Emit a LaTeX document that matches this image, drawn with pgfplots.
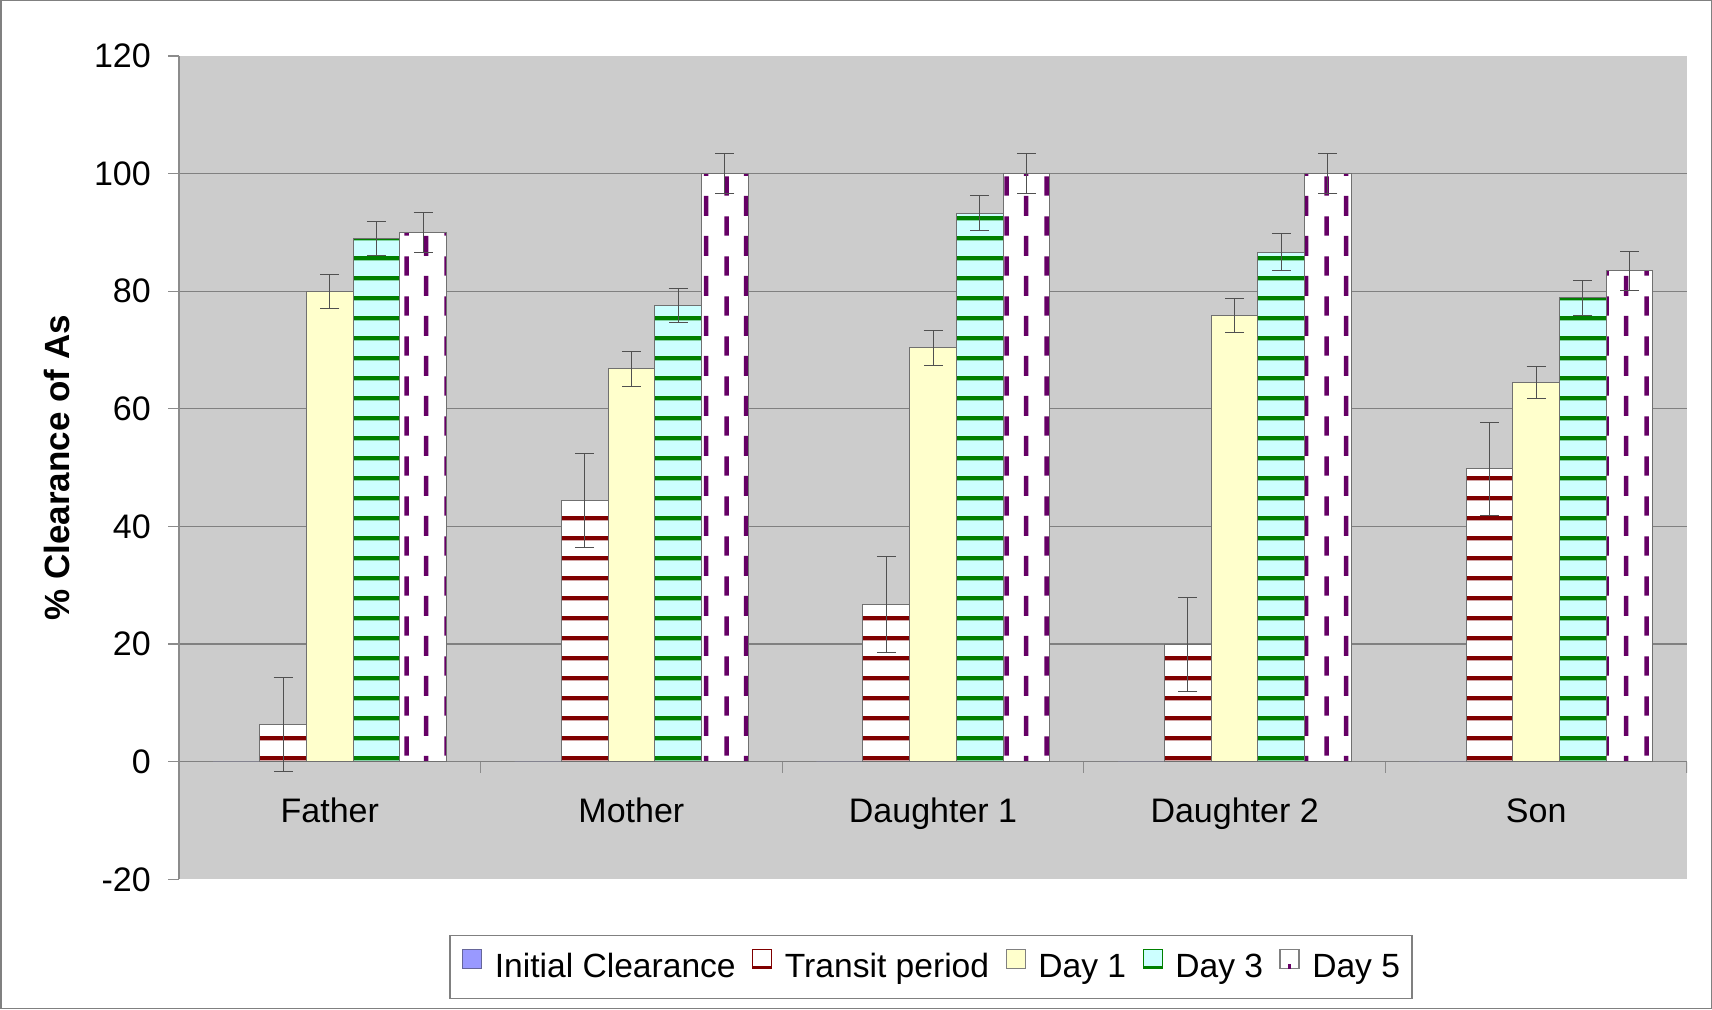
\documentclass[border=0pt]{standalone}
\usepackage{fontspec}
\setmainfont{Liberation Sans}
\usepackage{pgfplots}
\pgfplotsset{compat=1.18}
\usetikzlibrary{patterns}

\definecolor{plotbg}{HTML}{CCCCCC}
\definecolor{gridgray}{HTML}{808080}
\definecolor{axisgray}{HTML}{8C8C8C}
\definecolor{bordergray}{HTML}{707070}
\definecolor{errgray}{HTML}{505050}
\definecolor{initblue}{HTML}{9999FF}
\definecolor{initborder}{HTML}{666699}
\definecolor{transred}{HTML}{800000}
\definecolor{dayone}{HTML}{FFFFCC}
\definecolor{daythree}{HTML}{CCFFFF}
\definecolor{daygreen}{HTML}{008000}
\definecolor{dayfive}{HTML}{660066}

\pgfdeclarepatternformonly{hstripes}{\pgfpointorigin}{\pgfpoint{10pt}{10pt}}{\pgfpoint{10pt}{10pt}}{%
  \pgfpathrectangle{\pgfpoint{-1pt}{5.08pt}}{\pgfpoint{12pt}{2.16pt}}\pgfusepath{fill}}
\pgfdeclarepatternformonly{vdash}{\pgfpointorigin}{\pgfpoint{20pt}{20pt}}{\pgfpoint{20pt}{20pt}}{%
  \pgfpathrectangle{\pgfpoint{2.2pt}{7.4pt}}{\pgfpoint{2.3pt}{9.8pt}}%
  \pgfpathrectangle{\pgfpoint{12.2pt}{17.4pt}}{\pgfpoint{2.3pt}{3pt}}%
  \pgfpathrectangle{\pgfpoint{12.2pt}{-1pt}}{\pgfpoint{2.3pt}{8.2pt}}%
  \pgfusepath{fill}}

\begin{document}
\begin{tikzpicture}
\useasboundingbox (0,0) rectangle (856pt,504.5pt);
\fill[white] (0,0) rectangle (856pt,504.5pt);
\draw[gridgray, line width=0.75pt] (0.375pt,0.375pt) rectangle (855.625pt,504.125pt);
\begin{axis}[
  at={(89.5pt,64.85pt)}, anchor=south west,
  scale only axis, width=754pt, height=411.65pt,
  xmin=-0.5, xmax=4.5, ymin=-20, ymax=120,
  axis background/.style={fill=plotbg},
  axis x line*=bottom, axis y line*=left,
  x axis line style={draw=none},
  y axis line style={draw=axisgray, line width=0.8pt},
  xtick={0,1,2,3,4},
  xticklabels={Father,Mother,Daughter 1,Daughter 2,Son},
  xtick style={draw=none},
  ytick={0,20,40,60,80,100},
  extra y ticks={-20,120},
  extra y tick style={grid=none},
  ymajorgrids, grid style={gridgray, line width=0.6pt},
  ytick style={draw=axisgray, line width=0.6pt},
  tick align=outside, major tick length=5.4pt,
  /pgf/number format/assume math mode=true,
  ticklabel style={font=\fontsize{17}{20}\selectfont},
  yticklabel style={anchor=east, inner sep=0pt, xshift=-8.5pt},
  xticklabel style={anchor=base, inner sep=0pt, yshift=33.6pt},
  ylabel={\% Clearance of As},
  ylabel style={at={(axis description cs:-0.0806,0.5)}, anchor=center, font=\bfseries\fontsize{17.5}{20}\selectfont},
  legend columns=5,
  legend style={at={(axis description cs:0.4987,-0.1065)}, anchor=center,
    draw=gridgray, line width=0.6pt, fill=white,
    font=\fontsize{16.8}{20}\selectfont,
    inner xsep=6pt, inner ysep=7pt,
    nodes={inner sep=0pt, text height=12.4pt, text depth=3.6pt},
    /tikz/every odd column/.append style={column sep=6.3pt},
    /tikz/every even column/.append style={column sep=8.2pt}},
  error bars/error bar style={errgray, line width=0.5pt},
  error bars/error mark options={errgray, line width=0.5pt, mark size=4.75pt, rotate=90},
]
% Initial Clearance (no visible bars), slot offset -0.3096
\addplot[ybar, bar width=0.1548, bar shift=0, fill=initblue, draw=none, forget plot]
  coordinates {(-0.3096,0) (0.6904,0) (1.6904,0) (2.6904,0) (3.6904,0)};
% Transit period, slot offset -0.1548
\addplot[ybar, bar width=0.1548, bar shift=0, fill=white, draw=bordergray, line width=0.5pt,
  postaction={pattern=hstripes, pattern color=transred}, forget plot,
  error bars/.cd, y dir=both, y explicit]
  coordinates {(-0.1548,6.3) +- (0,8.05) (0.8452,44.4) +- (0,8.05) (1.8452,26.75) +- (0,8.1) (2.8452,20.0) +- (0,8.0) (3.8452,49.8) +- (0,7.9)};
% Day 1, slot offset 0
\addplot[ybar, bar width=0.1548, bar shift=0, fill=dayone, draw=bordergray, line width=0.5pt, forget plot,
  error bars/.cd, y dir=both, y explicit]
  coordinates {(0,80.0) +- (0,2.9) (1,66.8) +- (0,2.95) (2,70.4) +- (0,2.95) (3,75.8) +- (0,2.9) (4,64.5) +- (0,2.7)};
% Day 3, slot offset +0.1548
\addplot[ybar, bar width=0.1548, bar shift=0, fill=daythree, draw=bordergray, line width=0.5pt,
  postaction={pattern=hstripes, pattern color=daygreen}, forget plot,
  error bars/.cd, y dir=both, y explicit]
  coordinates {(0.1548,89.0) +- (0,2.9) (1.1548,77.6) +- (0,2.9) (2.1548,93.3) +- (0,2.95) (3.1548,86.65) +- (0,3.1) (4.1548,78.9) +- (0,2.95)};
% Day 5, slot offset +0.3096
\addplot[ybar, bar width=0.1548, bar shift=0, fill=white, draw=bordergray, line width=0.5pt,
  postaction={pattern=vdash, pattern color=dayfive}, forget plot,
  error bars/.cd, y dir=both, y explicit]
  coordinates {(0.3096,90.0) +- (0,3.4) (1.3096,100) +- (0,3.4) (2.3096,100) +- (0,3.4) (3.3096,100) +- (0,3.4) (4.3096,83.5) +- (0,3.3)};

% category separator ticks on the zero line
\draw[axisgray, line width=0.6pt] (axis cs:0.5,0) -- ++(0pt,-5.5pt);
\draw[axisgray, line width=0.6pt] (axis cs:1.5,0) -- ++(0pt,-5.5pt);
\draw[axisgray, line width=0.6pt] (axis cs:2.5,0) -- ++(0pt,-5.5pt);
\draw[axisgray, line width=0.6pt] (axis cs:3.5,0) -- ++(0pt,-5.5pt);
\draw[axisgray, line width=0.6pt] (axis cs:4.5,0) -- ++(0pt,-5.5pt);

\addlegendimage{/pgfplots/legend image code/.code={\draw[fill=initblue, draw=initborder, line width=0.6pt] (0pt,0pt) rectangle (9.5pt,9.5pt);}}
\addlegendentry{Initial Clearance}
\addlegendimage{/pgfplots/legend image code/.code={\draw[fill=white, draw=transred, line width=0.6pt] (0pt,0pt) rectangle (9.5pt,9.5pt); \fill[transred] (0pt,0pt) rectangle (9.5pt,1.2pt);}}
\addlegendentry{Transit period}
\addlegendimage{/pgfplots/legend image code/.code={\draw[fill=dayone, draw=gridgray, line width=0.6pt] (0pt,0pt) rectangle (9.5pt,9.5pt);}}
\addlegendentry{Day 1}
\addlegendimage{/pgfplots/legend image code/.code={\draw[fill=daythree, draw=daygreen, line width=0.6pt] (0pt,0pt) rectangle (9.5pt,9.5pt); \fill[daygreen] (0pt,0pt) rectangle (9.5pt,1.2pt);}}
\addlegendentry{Day 3}
\addlegendimage{/pgfplots/legend image code/.code={\draw[fill=white, draw=gridgray, line width=0.6pt] (0pt,0pt) rectangle (9.5pt,9.5pt); \fill[dayfive] (4.2pt,0pt) rectangle (5.4pt,2pt);}}
\addlegendentry{Day 5}
\end{axis}
\end{tikzpicture}
\end{document}
